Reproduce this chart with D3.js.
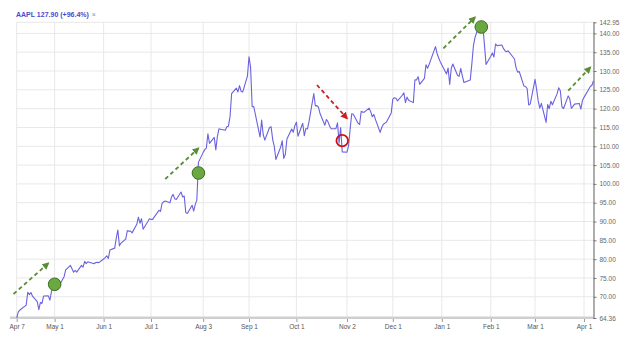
<!DOCTYPE html>
<html><head><meta charset="utf-8">
<script src="https://cdn.jsdelivr.net/npm/d3@7"></script>
<style>
html,body{margin:0;padding:0;background:#fff;}
svg{display:block;font-family:"Liberation Sans",Arial,sans-serif;}
</style></head>
<body>
<svg id="c" width="620" height="342"></svg>
<script>
// ---- data ----
const titleText = "AAPL 127.90 (+96.4%)";
const dates = ["2020-04-07","2020-04-08","2020-04-09","2020-04-13","2020-04-14","2020-04-15","2020-04-16","2020-04-17","2020-04-20","2020-04-21","2020-04-22","2020-04-23","2020-04-24","2020-04-27","2020-04-28","2020-04-29","2020-04-30",
"2020-05-01","2020-05-04","2020-05-05","2020-05-06","2020-05-07","2020-05-08","2020-05-11","2020-05-12","2020-05-13","2020-05-14","2020-05-15","2020-05-18","2020-05-19","2020-05-20","2020-05-21","2020-05-22","2020-05-26","2020-05-27","2020-05-28","2020-05-29",
"2020-06-01","2020-06-02","2020-06-03","2020-06-04","2020-06-05","2020-06-08","2020-06-09","2020-06-10","2020-06-11","2020-06-12","2020-06-15","2020-06-16","2020-06-17","2020-06-18","2020-06-19","2020-06-22","2020-06-23","2020-06-24","2020-06-25","2020-06-26","2020-06-29","2020-06-30",
"2020-07-01","2020-07-02","2020-07-06","2020-07-07","2020-07-08","2020-07-09","2020-07-10","2020-07-13","2020-07-14","2020-07-15","2020-07-16","2020-07-17","2020-07-20","2020-07-21","2020-07-22","2020-07-23","2020-07-24","2020-07-27","2020-07-28","2020-07-29","2020-07-30","2020-07-31",
"2020-08-03","2020-08-04","2020-08-05","2020-08-06","2020-08-07","2020-08-10","2020-08-11","2020-08-12","2020-08-13","2020-08-14","2020-08-17","2020-08-18","2020-08-19","2020-08-20","2020-08-21","2020-08-24","2020-08-25","2020-08-26","2020-08-27","2020-08-28","2020-08-31",
"2020-09-01","2020-09-02","2020-09-03","2020-09-04","2020-09-08","2020-09-09","2020-09-10","2020-09-11","2020-09-14","2020-09-15","2020-09-16","2020-09-17","2020-09-18","2020-09-21","2020-09-22","2020-09-23","2020-09-24","2020-09-25","2020-09-28","2020-09-29","2020-09-30",
"2020-10-01","2020-10-02","2020-10-05","2020-10-06","2020-10-07","2020-10-08","2020-10-09","2020-10-12","2020-10-13","2020-10-14","2020-10-15","2020-10-16","2020-10-19","2020-10-20","2020-10-21","2020-10-22","2020-10-23","2020-10-26","2020-10-27","2020-10-28","2020-10-29","2020-10-30",
"2020-11-02","2020-11-03","2020-11-04","2020-11-05","2020-11-06","2020-11-09","2020-11-10","2020-11-11","2020-11-12","2020-11-13","2020-11-16","2020-11-17","2020-11-18","2020-11-19","2020-11-20","2020-11-23","2020-11-24","2020-11-25","2020-11-27","2020-11-30",
"2020-12-01","2020-12-02","2020-12-03","2020-12-04","2020-12-07","2020-12-08","2020-12-09","2020-12-10","2020-12-11","2020-12-14","2020-12-15","2020-12-16","2020-12-17","2020-12-18","2020-12-21","2020-12-22","2020-12-23","2020-12-24","2020-12-28","2020-12-29","2020-12-30","2020-12-31",
"2021-01-04","2021-01-05","2021-01-06","2021-01-07","2021-01-08","2021-01-11","2021-01-12","2021-01-13","2021-01-14","2021-01-15","2021-01-19","2021-01-20","2021-01-21","2021-01-22","2021-01-25","2021-01-26","2021-01-27","2021-01-28","2021-01-29",
"2021-02-01","2021-02-02","2021-02-03","2021-02-04","2021-02-05","2021-02-08","2021-02-09","2021-02-10","2021-02-11","2021-02-12","2021-02-16","2021-02-17","2021-02-18","2021-02-19","2021-02-22","2021-02-23","2021-02-24","2021-02-25","2021-02-26",
"2021-03-01","2021-03-02","2021-03-03","2021-03-04","2021-03-05","2021-03-08","2021-03-09","2021-03-10","2021-03-11","2021-03-12","2021-03-15","2021-03-16","2021-03-17","2021-03-18","2021-03-19","2021-03-22","2021-03-23","2021-03-24","2021-03-25","2021-03-26","2021-03-29","2021-03-30","2021-03-31",
"2021-04-01","2021-04-05","2021-04-06","2021-04-07"];
const closes = [64.36,66.01,66.48,67.78,71.21,70.56,71.12,70.16,68.70,66.57,68.50,68.23,70.20,70.24,69.10,71.38,72.88,
71.71,72.73,73.82,74.58,75.34,77.13,78.35,77.45,76.52,77.00,76.54,78.34,77.89,79.40,78.81,79.31,78.78,79.12,79.15,79.08,
80.05,80.42,80.87,80.17,82.46,82.93,85.56,87.76,83.54,84.27,85.31,87.57,87.45,87.48,86.98,89.26,91.16,89.55,90.74,87.96,89.99,90.73,
90.56,90.56,92.98,92.69,94.85,95.26,95.43,94.99,96.56,97.22,96.03,95.84,97.86,96.51,96.77,92.37,92.14,94.33,92.77,94.56,95.70,105.72,
108.38,109.11,109.50,113.32,110.75,112.37,109.03,112.65,114.64,114.54,114.24,115.19,115.34,117.90,123.97,125.46,124.43,126.12,124.61,124.41,128.63,
133.75,130.98,120.49,120.57,112.46,116.94,113.13,111.64,114.99,115.17,111.77,109.99,106.50,109.73,111.45,106.78,107.87,111.92,114.59,113.72,115.44,
116.42,112.66,116.13,112.80,114.71,114.60,116.60,124.00,120.71,120.80,120.32,118.64,115.61,117.13,116.50,115.38,114.67,114.68,116.23,110.84,114.95,108.51,
108.42,110.09,114.58,118.65,118.51,116.15,115.80,119.31,119.03,119.08,120.12,119.21,117.85,118.46,117.16,113.68,115.00,115.86,116.42,118.87,
122.54,122.90,122.76,122.07,123.56,124.19,121.60,123.06,122.23,121.60,127.69,127.62,128.51,126.47,128.04,131.68,130.76,131.77,136.49,134.67,133.52,132.49,
129.22,130.81,126.41,130.72,131.85,128.79,128.61,130.69,128.72,126.95,127.64,131.83,136.66,138.86,142.71,142.95,141.85,136.89,131.76,
133.94,134.79,133.74,137.18,136.76,136.91,136.01,135.39,135.13,135.37,133.19,130.84,129.71,129.87,126.00,125.86,125.35,120.99,121.26,
127.79,125.12,122.06,120.13,121.42,116.36,121.09,119.98,121.96,121.03,123.99,125.57,124.76,120.53,119.99,123.39,122.54,120.09,120.59,121.21,121.39,119.90,122.15,
123.00,125.90,126.21,127.40];
const xTickDates = ["2020-04-07","2020-05-01","2020-06-01","2020-07-01","2020-08-03","2020-09-01","2020-10-01","2020-11-02","2020-12-01","2021-01-01","2021-02-01","2021-03-01","2021-04-01"];
const xTickLabels = ["Apr 7","May 1","Jun 1","Jul 1","Aug 3","Sep 1","Oct 1","Nov 2","Dec 1","Jan 1","Feb 1","Mar 1","Apr 1"];
const yTicks = [64.36,70,75,80,85,90,95,100,105,110,115,120,125,130,135,140,142.95];
const yMin = 64.36, yMax = 142.95;
// annotations (data space)
const greenMarkers = [["2020-05-01",73.32],["2020-07-31",102.9],["2021-01-26",141.7]];
const redMarkers = [["2020-10-30",111.5]];
const greenArrows = [[["2020-04-05",70.74],["2020-04-27",78.9]],
                     [["2020-07-10",101.3],["2020-07-31",109.46]],
                     [["2021-01-02",136.04],["2021-01-22",144.28]],
                     [["2021-03-22",124.77],["2021-04-05",130.99]]];
const redArrows = [[["2020-10-14",126.28],["2020-11-02",117.43]]];

// ---- chart ----
const parse = s => { const [y,m,d] = s.split("-").map(Number); return new Date(y, m-1, d); };
const svg = d3.select("#c");
const L = 16.7, R = 593.5, T = 22.3, B = 318;
const x = d3.scaleTime().domain([parse("2020-04-07"), parse("2021-04-07")]).range([L, R]);
const y = d3.scaleLinear().domain([yMin, yMax]).range([B, T]);

const grid = svg.append("g");
grid.selectAll("line.v").data(xTickDates).join("line")
  .attr("x1", d => x(parse(d))).attr("x2", d => x(parse(d)))
  .attr("y1", T).attr("y2", B).attr("stroke", "#e8e8e8").attr("stroke-width", 1);
grid.selectAll("line.h").data(yTicks).join("line")
  .attr("x1", L).attr("x2", R).attr("y1", d => y(d)).attr("y2", d => y(d))
  .attr("stroke", "#e8e8e8").attr("stroke-width", 1);

// bottom axis band
svg.append("rect").attr("x", 10).attr("y", B - 1.5).attr("width", R - 10).attr("height", 2.5).attr("fill", "#cfcfcf");

const xAxis = d3.axisBottom(x).tickValues(xTickDates.map(parse))
  .tickFormat((d, i) => xTickLabels[i]).tickSize(3).tickPadding(2);
const gx = svg.append("g").attr("transform", `translate(0,${B + 1})`).call(xAxis);
gx.select(".domain").remove();
gx.selectAll("line").attr("stroke", "#999");
gx.selectAll("text").attr("fill", "#555").style("font-size", "6.5px");

const yAxis = d3.axisRight(y).tickValues(yTicks).tickFormat(d3.format(".2f")).tickSize(3).tickPadding(3);
const gy = svg.append("g").attr("transform", `translate(${R},0)`).call(yAxis);
gy.select(".domain").attr("stroke", "#777").attr("stroke-width", 1.2).attr("d", `M0.5,${T}V${B + 1}`);
gy.selectAll("line").attr("stroke", "#777");
gy.selectAll("text").attr("fill", "#666").style("font-size", "6.5px");

// line
const series = dates.map((d, i) => ({ date: parse(d), v: closes[i] }));
svg.append("path").datum(series)
  .attr("fill", "none").attr("stroke", "#6a62de").attr("stroke-width", 1.1).attr("stroke-linejoin", "round")
  .attr("d", d3.line().x(d => x(d.date)).y(d => y(d.v)));

// arrowheads
const defs = svg.append("defs");
function marker(id, color) {
  defs.append("marker").attr("id", id).attr("viewBox", "0 0 10 10").attr("refX", 8).attr("refY", 5)
    .attr("markerWidth", 4).attr("markerHeight", 4).attr("orient", "auto")
    .append("path").attr("d", "M0,0L10,5L0,10Z").attr("fill", color);
}
marker("ag", "#5a8d35");
marker("ar", "#cc2020");
function arrows(list, color, mid) {
  svg.append("g").selectAll("line").data(list).join("line")
    .attr("x1", d => x(parse(d[0][0]))).attr("y1", d => y(d[0][1]))
    .attr("x2", d => x(parse(d[1][0]))).attr("y2", d => y(d[1][1]))
    .attr("stroke", color).attr("stroke-width", 1.8).attr("stroke-dasharray", "4,3")
    .attr("marker-end", `url(#${mid})`);
}
arrows(greenArrows, "#5a8d35", "ag");
arrows(redArrows, "#cc2020", "ar");

svg.append("g").selectAll("circle").data(greenMarkers).join("circle")
  .attr("cx", d => x(parse(d[0]))).attr("cy", d => y(d[1])).attr("r", 6.3)
  .attr("fill", "#6aa842").attr("stroke", "#3f6e25").attr("stroke-width", 1);
svg.append("g").selectAll("circle").data(redMarkers).join("circle")
  .attr("cx", d => x(parse(d[0]))).attr("cy", d => y(d[1])).attr("r", 5.8)
  .attr("fill", "none").attr("stroke", "#cc1010").attr("stroke-width", 1.8);

// title
const t = svg.append("text").attr("x", 16).attr("y", 17).style("font-size", "7px").style("font-weight", "bold").attr("fill", "#4a4ad0").text(titleText);
const tw = t.node().getComputedTextLength();
svg.append("text").attr("x", 16 + tw + 3).attr("y", 17).style("font-size", "7px").attr("fill", "#8888bb").text("×");
</script>
</body></html>
